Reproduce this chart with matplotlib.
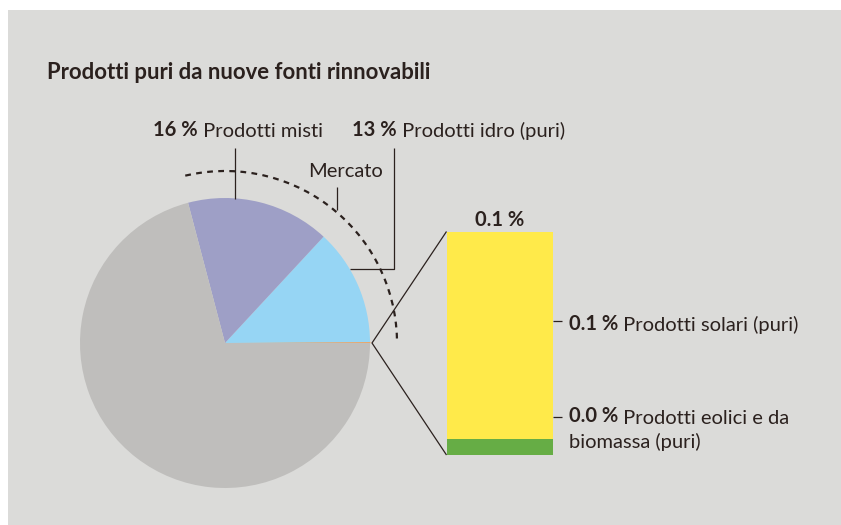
import matplotlib
matplotlib.use("Agg")
import matplotlib.pyplot as plt
from matplotlib.patches import Arc, Rectangle

# ---- data ----
pie_labels = ["Solari + eolici (puri)", "Prodotti idro (puri)", "Prodotti misti", "Altro"]
pie_values = [0.1, 13, 16, 70.9]
pie_colors = ["#f2a35e", "#96d5f4", "#9e9fc6", "#bfbebc"]

bar_labels = ["Prodotti eolici e da\nbiomassa (puri)", "Prodotti solari (puri)"]
bar_values = [0.007, 0.093]
bar_pct_text = ["0.0 %", "0.1 %"]
bar_colors = ["#66ad45", "#ffea4a"]
bar_total_text = "0.1 %"

title = "Prodotti puri da nuove fonti rinnovabili"
market_label = "Mercato"

W, H = 841, 525
BG = "#dbdbd9"
TXT = "#2b211e"
FONT = "Lato"
FS = 14.5

fig = plt.figure(figsize=(W / 100, H / 100), dpi=100)
fig.patch.set_facecolor(BG)
# white margins (top and left)
fig.patches.append(Rectangle((0, 0), 8 / W, 1, transform=fig.transFigure,
                             facecolor="white", edgecolor="none", zorder=-1))
fig.patches.append(Rectangle((0, 1 - 10 / H), 1, 10 / H, transform=fig.transFigure,
                             facecolor="white", edgecolor="none", zorder=-1))
ax = fig.add_axes([0, 0, 1, 1])
ax.set_axis_off()
ax.patch.set_visible(False)


def Y(y):
    return H - y


# pie
cx, cy, r = 225, Y(343), 145
wedges, _ = ax.pie(pie_values, colors=pie_colors, startangle=0, counterclock=True,
                   center=(cx, cy), radius=r, wedgeprops=dict(linewidth=0), frame=True)
wedges[0].set_edgecolor(pie_colors[0])
wedges[0].set_linewidth(0.6)
ax.set_aspect("equal")
ax.set_xlim(0, W)
ax.set_ylim(0, H)
ax.set_axis_off()

# dashed "Mercato" arc
ax.add_patch(Arc((cx, cy), 2 * 172, 2 * 172, theta1=1.5, theta2=105, color=TXT,
                 lw=1.6, linestyle=(0, (2.6, 2.4)), zorder=3))

LW = 0.9


def line(xs, ys):
    ax.plot(xs, [Y(v) for v in ys], color=TXT, lw=LW, solid_capstyle="butt", zorder=4)


def two_part(x, y, bold, regular, fs=FS):
    t1 = ax.text(x, Y(y), bold, fontsize=fs, fontweight="bold", family=FONT, color=TXT,
                 ha="left", va="baseline")
    ax.annotate(regular, xy=(1, 0), xycoords=t1, fontsize=fs, family=FONT, color=TXT,
                ha="left", va="bottom")
    return t1


# title
ax.text(47, Y(79), title, fontsize=15.9, fontweight="bold", family=FONT, color=TXT,
        ha="left", va="baseline")

# top labels
two_part(153, 136, "16 %", " " + pie_labels[2])
two_part(352, 136, "13 %", " " + pie_labels[1])
ax.text(308, Y(177), market_label, fontsize=FS, family=FONT, color=TXT, ha="left", va="baseline")

# leaders
line([235, 235], [148, 198.5])
line([394, 394, 350], [148, 269, 269])
line([337, 337], [187, 210])

# bar of pie
bx0, bx1, by_top, by_bot = 446.5, 553, 231.5, 455
bax = fig.add_axes([bx0 / W, Y(by_bot) / H, (bx1 - bx0) / W, (by_bot - by_top) / H])
bottom = 0
for v, c in zip(bar_values, bar_colors):
    bax.bar(0, v, width=1, bottom=bottom, color=c, linewidth=0)
    bottom += v
bax.set_xlim(-0.5, 0.5)
bax.set_ylim(0, sum(bar_values))
bax.set_axis_off()

ax.text((bx0 + bx1) / 2, Y(226.5), bar_total_text, fontsize=FS, fontweight="bold", family=FONT,
        color=TXT, ha="center", va="baseline")

# connectors
vx = cx + r + 2
line([bx0, vx, bx0], [by_top, 343, by_bot])

# right labels
line([553, 562], [321, 321])
line([553, 562], [417, 417])
two_part(569, 330.5, bar_pct_text[1], " " + bar_labels[1])
two_part(569, 422.5, bar_pct_text[0], " Prodotti eolici e da")
ax.text(569, Y(448.3), "biomassa (puri)", fontsize=FS, family=FONT, color=TXT, ha="left", va="baseline")

fig.savefig("out.png", dpi=100, facecolor=fig.get_facecolor())
